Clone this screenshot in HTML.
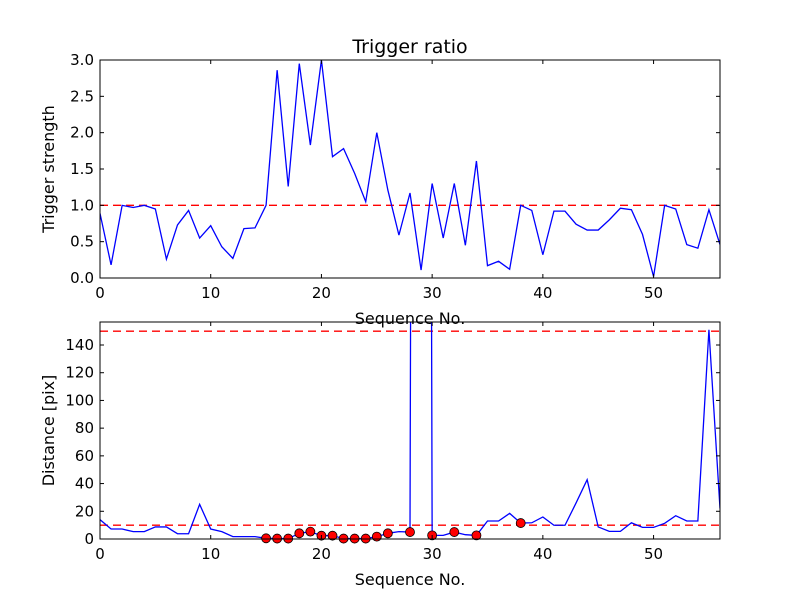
<!DOCTYPE html>
<html><head><meta charset="utf-8"><style>
body{margin:0;background:#fff}
svg{display:block;font-family:"DejaVu Sans","Liberation Sans",sans-serif}
</style></head><body>
<svg id="fig" width="800" height="600"></svg>
<script>
const ratioValues = [0.89,0.18,1.0,0.97,1.0,0.95,0.26,0.73,0.93,0.55,0.72,0.43,0.27,0.68,0.69,1.0,2.86,1.26,2.95,1.83,3.0,1.67,1.78,1.44,1.05,2.0,1.21,0.59,1.17,0.11,1.30,0.55,1.30,0.45,1.61,0.17,0.23,0.12,1.0,0.93,0.32,0.92,0.92,0.74,0.66,0.66,0.8,0.96,0.94,0.6,0.02,1.0,0.95,0.46,0.41,0.94,0.46];
const distValues = [14,7.2,7.2,5.3,5.3,8.7,8.7,3.8,3.8,25,7.2,5.3,1.7,1.7,1.7,0.5,0.3,0.3,4.1,5.3,2.4,2.4,0.3,0.3,0.3,1.7,4.1,5.3,5.0,3000,2.6,2.6,5.0,3.1,2.6,13,13,18.5,11.5,11.7,15.9,9.9,9.9,26,42.8,8.7,5.5,5.5,11.7,8.4,8.4,11.3,16.8,13,13,151,22];
const markerIdx = [15,16,17,18,19,20,21,22,23,24,25,26,28,30,32,34,38];
const topYTicks = ["0.0","0.5","1.0","1.5","2.0","2.5","3.0"];
const botYTicks = [0,20,40,60,80,100,120,140];
const xTicks = [0,10,20,30,40,50];
const ratioThreshold = [1.0];
const distThresholds = [10,150];

const NS="http://www.w3.org/2000/svg";
const svgRoot=document.getElementById('fig');
function mk(tag,attrs,parent){const e=document.createElementNS(NS,tag);for(const k in attrs)e.setAttribute(k,attrs[k]);(parent||svgRoot).appendChild(e);return e;}

function drawAxes(cfg){
  const {x0,x1,y0,y1,ymax,name}=cfg;
  const g=mk('g',{});
  
  
  const sx=v=>x0+v/56*(x1-x0);
  const sy=v=>y1-v/ymax*(y1-y0);
  const clipId='clip-'+name;
  const cp=mk('clipPath',{id:clipId},g);
  mk('rect',{x:x0,y:y0,width:x1-x0,height:y1-y0},cp);
  return Object.assign({g,sx,sy,clipId},cfg);
}
function frame(a,yTickVals,yTickLabels,xlab,ylab){
  const {g,x0,x1,y0,y1,sx,sy}=a;
  xTicks.forEach(t=>{
    const x=sx(t);
    const l1=mk('line',{x1:x,x2:x,y1:y1,y2:y1-4,stroke:'#000'},g);
    
    
    mk('line',{x1:x,x2:x,y1:y0,y2:y0+4,stroke:'#000'},g);
    const t1=mk('text',{x:x,y:y1+20,'text-anchor':'middle','font-size':15},g);
    t1.textContent=t;
    
    
  });
  yTickVals.forEach((t,i)=>{
    const y=sy(t);
    mk('line',{x1:x0,x2:x0+4,y1:y,y2:y,stroke:'#000'},g);
    mk('line',{x1:x1,x2:x1-4,y1:y,y2:y,stroke:'#000'},g);
    const t1=mk('text',{x:x0-6,y:y+5,'text-anchor':'end','font-size':15},g);
    t1.textContent=yTickLabels[i];
    
    
  });
  const r=mk('rect',{x:x0,y:y0,width:x1-x0,height:y1-y0,fill:'none',stroke:'#000','stroke-width':1},g);
  
  
  const xl=mk('text',{x:(x0+x1)/2,y:y1+46,'text-anchor':'middle','font-size':16},g);
  xl.textContent=xlab;
  
  
  const yl=mk('text',{x:0,y:0,'text-anchor':'middle','font-size':16,transform:`translate(${x0-46},${(y0+y1)/2}) rotate(-90)`},g);
  yl.textContent=ylab;
  
  
}
function hline(a,v){
  const l=mk('line',{x1:a.x0,x2:a.x1,y1:a.sy(v),y2:a.sy(v),stroke:'#f00','stroke-width':1.4,'stroke-dasharray':'8,5','clip-path':`url(#${a.clipId})`},a.g);
  
  
}
function series(a,vals){
  const p=mk('polyline',{points:vals.map((v,i)=>a.sx(i)+','+a.sy(v)).join(' '),fill:'none',stroke:'#00f','stroke-width':1.3,'clip-path':`url(#${a.clipId})`},a.g);
  
  
}

const topAx=drawAxes({x0:100,x1:720,y0:60,y1:278,ymax:3.0,name:'trigger-ratio-plot'});
hline(topAx,ratioThreshold[0]);
series(topAx,ratioValues);
frame(topAx,topYTicks.map(Number),topYTicks,'Sequence No.','Trigger strength');
const titleEl=mk('text',{x:410,y:53,'text-anchor':'middle','font-size':19},topAx.g);
titleEl.textContent='Trigger ratio';



const botAx=drawAxes({x0:100,x1:720,y0:322,y1:539,ymax:156.6,name:'distance-plot'});
distThresholds.forEach(v=>hline(botAx,v));
series(botAx,distValues);
markerIdx.forEach(i=>{
  const c=mk('circle',{cx:botAx.sx(i),cy:botAx.sy(distValues[i]),r:4.5,fill:'#f00',stroke:'#000','stroke-width':0.8},botAx.g);
  
  
});
frame(botAx,botYTicks,botYTicks.map(String),'Sequence No.','Distance [pix]');
</script>
</body></html>
